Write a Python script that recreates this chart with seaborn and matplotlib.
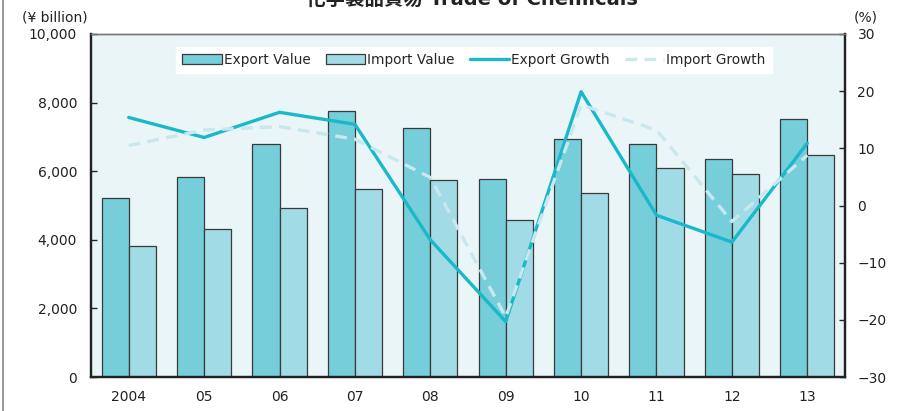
import numpy as np
import pandas as pd
import matplotlib.pyplot as plt
import seaborn as sns
from matplotlib.lines import Line2D
from matplotlib.ticker import FuncFormatter

# data
years = ["2004", "05", "06", "07", "08", "09", "10", "11", "12", "13"]
export_value = [5230, 5840, 6800, 7750, 7270, 5780, 6930, 6800, 6360, 7510]
import_value = [3820, 4320, 4920, 5480, 5740, 4580, 5370, 6100, 5930, 6460]
export_growth = [15.4, 11.9, 16.3, 14.2, -6.0, -20.3, 19.9, -1.7, -6.4, 10.9]
import_growth = [10.5, 13.2, 13.8, 11.6, 4.9, -19.5, 17.6, 13.2, -2.8, 8.8]

sns.set_style("white")
plt.rcParams["font.family"] = ["DejaVu Sans", "Noto Sans CJK JP"]

exp_col = "#75CED9"
imp_col = "#A1DBE5"
exp_line = "#19B9C9"
imp_line = "#C8E7EE"
bg = "#EAF5F8"

bars = pd.DataFrame({
    "year": years * 2,
    "value": export_value + import_value,
    "kind": ["Export Value"] * len(years) + ["Import Value"] * len(years),
})

fig = plt.figure(figsize=(9.02, 4.11), dpi=100)
ax = fig.add_axes([0.1009, 0.0827, 0.8359, 0.8346])
ax.set_facecolor(bg)

sns.barplot(data=bars, x="year", y="value", hue="kind", order=years,
            hue_order=["Export Value", "Import Value"],
            palette=[exp_col, imp_col], saturation=1, width=0.72, gap=0,
            edgecolor="#3a3a3a", linewidth=0.9, legend=False, ax=ax)

ax.set_xlim(-0.5, len(years) - 0.5)
ax.set_ylim(0, 10000)
ax.set_yticks(range(0, 10001, 2000))
ax.yaxis.set_major_formatter(FuncFormatter(lambda v, p: f"{int(v):,}"))
ax.set_xlabel("")
ax.set_ylabel("")

# growth lines on the right axis
ax2 = ax.twinx()
pos = np.arange(len(years))
sns.lineplot(x=pos, y=export_growth, color=exp_line, lw=2.4, ax=ax2)
sns.lineplot(x=pos, y=import_growth, color=imp_line, lw=2.4, ax=ax2,
             dashes=False, linestyle=(0, (3.5, 2.2)))
ax2.set_ylim(-30, 30)
ax2.set_yticks(range(-30, 31, 10))
ax2.set_xlim(-0.5, len(years) - 0.5)

# ticks
ax.set_xticks(pos)
ax.set_xticklabels(years)
ax.set_xticks(np.arange(0.5, len(years) - 1, 1), minor=True)
ax.tick_params(axis="x", which="major", length=0, pad=9, labelsize=10)
ax.tick_params(axis="x", which="minor", direction="in", length=4, width=1, color="#333")
ax.tick_params(axis="y", direction="in", length=4, width=1, pad=10,
               labelsize=10, left=True)
ax2.tick_params(axis="y", direction="in", length=4, width=1, pad=9,
                labelsize=10, right=True)
for lab in ax.get_xticklabels() + ax.get_yticklabels() + ax2.get_yticklabels():
    lab.set_color("#222")

for a in (ax, ax2):
    for s in ("left", "right", "bottom"):
        a.spines[s].set_visible(True)
        a.spines[s].set_color("#222")
        a.spines[s].set_linewidth(1.6)
    a.spines["top"].set_color("#777")
    a.spines["top"].set_linewidth(1.0)

ax.text(-0.004, 1.028, "(¥ billion)", transform=ax.transAxes, ha="right",
        va="bottom", fontsize=10, color="#222")
ax2.text(1.012, 1.028, "(%)", transform=ax2.transAxes, ha="left",
         va="bottom", fontsize=10, color="#222")

# legend
handles = [
    plt.Rectangle((0, 0), 1, 1, fc=exp_col, ec="#3a3a3a", lw=0.9),
    plt.Rectangle((0, 0), 1, 1, fc=imp_col, ec="#3a3a3a", lw=0.9),
    Line2D([], [], color=exp_line, lw=2.4),
    Line2D([], [], color=imp_line, lw=2.4, linestyle=(0, (3.5, 2.2))),
]
labels = ["Export Value", "Import Value", "Export Growth", "Import Growth"]
leg = ax2.legend(handles, labels, ncol=4, loc="center", bbox_to_anchor=(0.508, 0.925),
                 fontsize=9.8, frameon=True, fancybox=False, handlelength=2.9,
                 handleheight=0.75, handletextpad=0.15, columnspacing=1.1,
                 borderpad=0.45)
leg.get_frame().set_facecolor("white")
leg.get_frame().set_edgecolor("white")
leg.get_frame().set_alpha(1)

# title (cut off at top as in reference)
fig.text(0.523, 0.988, "化学製品貿易 Trade of Chemicals", ha="center",
         va="baseline", fontsize=14, fontweight="bold", color="#222")

# left frame line
fig.add_artist(Line2D([0.0035, 0.0035], [0, 1], transform=fig.transFigure,
                      color="#888", lw=1.2))

fig.savefig("out.png", dpi=100, facecolor="white")
